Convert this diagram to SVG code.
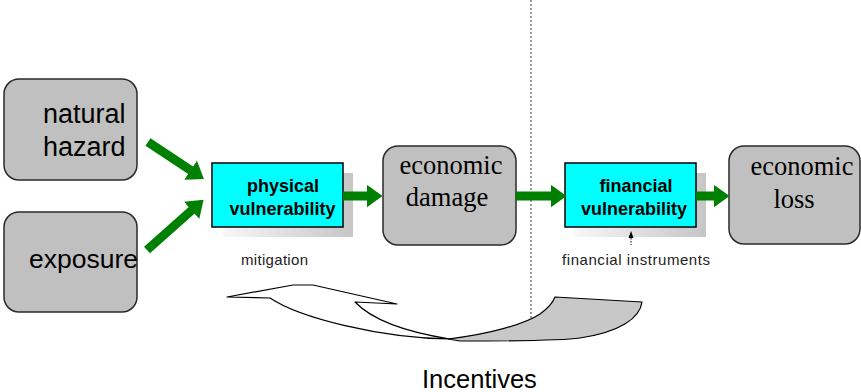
<svg xmlns="http://www.w3.org/2000/svg" width="861" height="392" viewBox="0 0 861 392">
  <style>
    .rbox { fill: #c0c0c0; stroke: #2a2a2a; stroke-width: 1.5; }
    .vbox { fill: #00ffff; stroke: #000; stroke-width: 1.5; }
    .sans { font-family: "Liberation Sans", Arial, sans-serif; fill: #000; }
    .serif { font-family: "Liberation Serif", "Times New Roman", serif; fill: #000; }
    .big { font-size: 27px; }
    .bold { font-size: 18px; font-weight: bold; }
    .small { font-size: 15px; fill: #222; }
    .flow { stroke: #008000; stroke-width: 9; fill: none; }
  </style>
  <defs>
    <marker id="head" markerUnits="userSpaceOnUse" viewBox="0 0 16 23" markerWidth="16" markerHeight="23" refX="0.5" refY="11.5" orient="auto">
      <path d="M0,0 L16,11.5 L0,23 Z" fill="#008000"/>
    </marker>
    <linearGradient id="shade" x1="0" y1="0" x2="1" y2="0">
      <stop offset="0" stop-color="#f7f7f7"/>
      <stop offset="1" stop-color="#c6c6c6"/>
    </linearGradient>
  </defs>
  <rect width="861" height="392" fill="#fff"/>

  <!-- divider between physical and financial side -->
  <line x1="531" y1="0" x2="531" y2="322" stroke="#333" stroke-width="1" stroke-dasharray="2 2"/>

  <!-- incentives feedback ribbon -->
  <g id="incentives">
    <path d="M227,297 L293,285 L313,285 L397,304 L355,302 Q380,328 450,339 C380,338 300,318 270,298 Z" fill="#fff" stroke="#000" stroke-width="1.2" stroke-linejoin="round"/>
    <path d="M448,339 C490,334 525,324 540,314 C550,307 553,302 555,297 L642,302 C640,318 620,332 580,338 C560,341 500,341 460,341 Z" fill="#c8c8c8" stroke="#000" stroke-width="1.2" stroke-linejoin="round"/>
    <text class="sans" x="422" y="388" font-size="25.5">Incentives</text>
  </g>

  <g id="natural-hazard">
    <rect class="rbox" x="4" y="79" width="133" height="101" rx="15"/>
    <text class="sans big" x="43" y="123">natural</text>
    <text class="sans big" x="43" y="156">hazard</text>
  </g>

  <g id="exposure">
    <rect class="rbox" x="4" y="212" width="133" height="100" rx="15"/>
    <text class="sans" x="29" y="268" font-size="26.5">exposure</text>
  </g>

  <g id="physical-vulnerability">
    <rect x="223" y="173" width="130" height="64" fill="url(#shade)"/>
    <rect class="vbox" x="212" y="163" width="131" height="64"/>
    <text class="sans bold" x="283" y="192" text-anchor="middle">physical</text>
    <text class="sans bold" x="282.5" y="215" text-anchor="middle">vulnerability</text>
    <text class="sans small" x="241" y="265" textLength="67">mitigation</text>
  </g>

  <g id="economic-damage">
    <rect class="rbox" x="383" y="146" width="133" height="99" rx="15"/>
    <text class="serif" x="451" y="174" font-size="26.5" text-anchor="middle">economic</text>
    <text class="serif" x="447" y="206" font-size="26.5" text-anchor="middle">damage</text>
  </g>

  <g id="financial-vulnerability">
    <rect x="574" y="173" width="132" height="64" fill="url(#shade)"/>
    <rect class="vbox" x="565" y="163" width="131" height="64"/>
    <text class="sans bold" x="636" y="192" text-anchor="middle">financial</text>
    <text class="sans bold" x="634" y="215" text-anchor="middle">vulnerability</text>
    <line x1="631" y1="238" x2="631" y2="245" stroke="#000" stroke-width="1" stroke-dasharray="1.5 1.5"/>
    <path d="M631,231 L628.5,238 L633.5,238 Z" fill="#000"/>
    <text class="sans small" x="562" y="265" textLength="148">financial instruments</text>
  </g>

  <g id="economic-loss">
    <rect class="rbox" x="729" y="146" width="131" height="98" rx="15"/>
    <text class="serif" x="802" y="175" font-size="26.5" text-anchor="middle">economic</text>
    <text class="serif" x="794" y="208" font-size="26.5" text-anchor="middle">loss</text>
  </g>

  <g id="connectors">
    <line class="flow" x1="148" y1="142" x2="191" y2="170.5" marker-end="url(#head)"/>
    <line class="flow" x1="147" y1="250" x2="192" y2="210" marker-end="url(#head)"/>
    <line class="flow" x1="343" y1="196" x2="367" y2="196" marker-end="url(#head)"/>
    <line class="flow" x1="516" y1="196" x2="551" y2="196" marker-end="url(#head)"/>
    <line class="flow" x1="696" y1="196" x2="714" y2="196" marker-end="url(#head)"/>
  </g>
</svg>
